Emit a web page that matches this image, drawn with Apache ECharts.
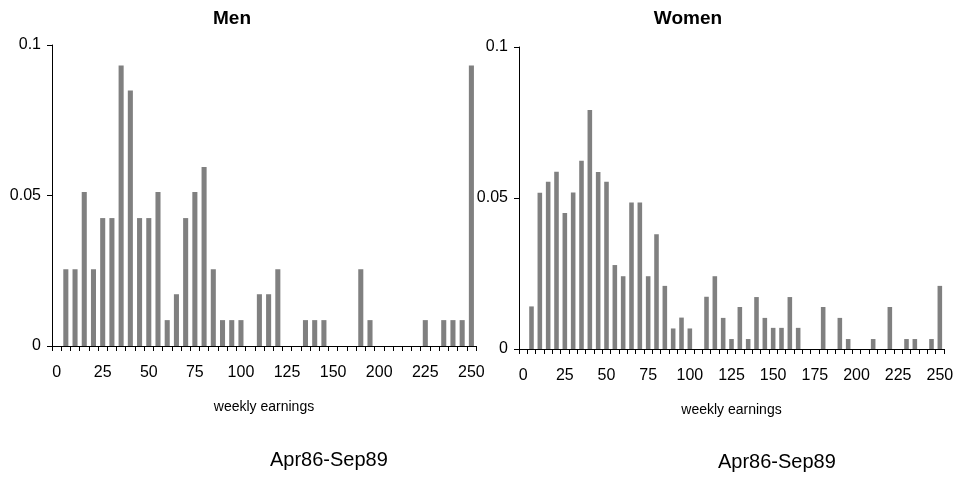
<!DOCTYPE html>
<html>
<head>
<meta charset="utf-8">
<script src="https://cdn.jsdelivr.net/npm/echarts@6/dist/echarts.min.js"></script>
<style>
html,body{margin:0;padding:0;background:#fff;}
#c{width:959px;height:482px;}
</style>
</head>
<body>
<div id="c"></div>
<script>
// Men: categories (weekly earnings bins) - some bins between 150 and 200 absent
const menCategories = ["0","5","10","15","20","25","30","35","40","45","50","55","60","65","70","75","80","85","90","95","100","105","110","115","120","125","130","135","140","145","150","160","170","180","190","200","205","210","215","220","225","230","235","240","245","250"];
const menValues = [0,0.0255,0.0255,0.0512,0.0255,0.0425,0.0425,0.0932,0.0849,0.0425,0.0425,0.0512,0.0086,0.0172,0.0425,0.0512,0.0595,0.0255,0.0086,0.0086,0.0086,0,0.0172,0.0172,0.0255,0,0,0.0086,0.0086,0.0086,0,0,0,0.0255,0.0086,0,0,0,0,0,0.0086,0,0.0086,0.0086,0.0086,0.0932];

const womenCategories = ["0","5","10","15","20","25","30","35","40","45","50","55","60","65","70","75","80","85","90","95","100","105","110","115","120","125","130","135","140","145","150","155","160","165","170","175","180","185","190","195","200","205","210","215","220","225","230","235","240","245","250"];
const womenValues = [0,0.0141,0.0517,0.0554,0.0587,0.0450,0.0518,0.0623,0.0791,0.0586,0.0554,0.0278,0.0241,0.0485,0.0485,0.0241,0.0380,0.0209,0.0068,0.0104,0.0068,0,0.0173,0.0241,0.0103,0.0033,0.0139,0.0033,0.0172,0.0103,0.0070,0.0070,0.0172,0.0070,0,0,0.0139,0,0.0103,0.0033,0,0,0.0033,0,0.0139,0,0.0033,0.0033,0,0.0033,0.0209];

const yTicks = {min: 0, max: 0.1, interval: 0.05};
const titles = ["Men", "Women"];
const xName = "weekly earnings";
const period = "Apr86-Sep89";

const FONT = "Liberation Sans, Arial, sans-serif";
const chart = echarts.init(document.getElementById('c'), null, {renderer: 'canvas'});

function xAxisFor(cats, gridIndex) {
  return {
    type: 'category', gridIndex: gridIndex, data: cats, boundaryGap: true,
    axisLine: {show: true, lineStyle: {color: '#000', width: 1}},
    axisTick: {show: true, interval: 0, length: 5, lineStyle: {color: '#000'}},
    axisLabel: {interval: 4, color: '#000', fontSize: 16, fontFamily: FONT, margin: 19},
    name: xName, nameLocation: 'middle', nameGap: 54,
    nameTextStyle: {fontSize: 14, color: '#000', fontFamily: FONT},
    splitLine: {show: false}
  };
}
function yAxisFor(gridIndex) {
  return {
    type: 'value', gridIndex: gridIndex, min: yTicks.min, max: yTicks.max, interval: yTicks.interval,
    axisLine: {show: true, lineStyle: {color: '#000', width: 1}},
    axisTick: {show: true, length: 5, lineStyle: {color: '#000'}},
    axisLabel: {color: '#000', fontSize: 16, fontFamily: FONT, margin: 11},
    splitLine: {show: false}
  };
}

chart.setOption({
  animation: false,
  backgroundColor: '#fff',
  title: [
    {text: titles[0], left: 232, top: 9, textAlign: 'center', padding: 0,
     textStyle: {fontSize: 19, fontWeight: 'bold', color: '#000', fontFamily: FONT}},
    {text: titles[1], left: 688, top: 9, textAlign: 'center', padding: 0,
     textStyle: {fontSize: 19, fontWeight: 'bold', color: '#000', fontFamily: FONT}}
  ],
  grid: [
    {left: 52, right: 483, top: 45, bottom: 136},
    {left: 519, right: 15, top: 47, bottom: 133}
  ],
  xAxis: [xAxisFor(menCategories, 0), xAxisFor(womenCategories, 1)],
  yAxis: [yAxisFor(0), yAxisFor(1)],
  series: [
    {type: 'bar', xAxisIndex: 0, yAxisIndex: 0, data: menValues, barWidth: '55%', itemStyle: {color: '#808080'}},
    {type: 'bar', xAxisIndex: 1, yAxisIndex: 1, data: womenValues, barWidth: '55%', itemStyle: {color: '#808080'}}
  ],
  graphic: [
    {type: 'text', left: 270, top: 450, style: {text: period, fontSize: 20, fontFamily: FONT, fill: '#000', textAlign: 'center'}},
    {type: 'text', left: 718, top: 452, style: {text: period, fontSize: 20, fontFamily: FONT, fill: '#000', textAlign: 'center'}}
  ]
});
</script>
</body>
</html>
